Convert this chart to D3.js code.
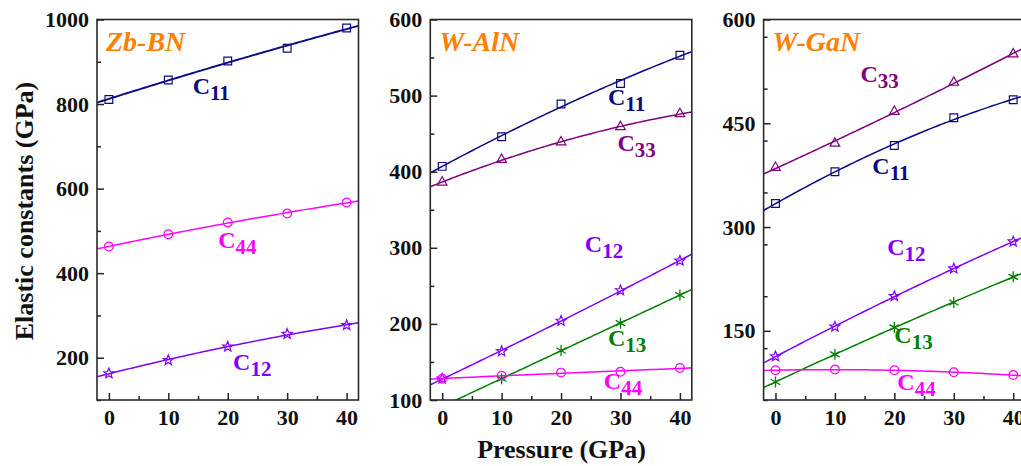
<!DOCTYPE html>
<html><head><meta charset="utf-8">
<script src="https://cdn.jsdelivr.net/npm/d3@7"></script>
<style>
html,body{margin:0;padding:0;background:#fff;}
svg{display:block;font-family:"Liberation Serif","Times New Roman",serif;}
</style></head><body>
<svg id="chart" width="1021" height="466"></svg>
<script>
// Pressure points (GPa)
const pressures = [0, 10, 20, 30, 40];
const pressureTicks = [0, 10, 20, 30, 40];

// Zb-BN elastic constants (GPa)
const bnC11 = [811, 857, 902, 932, 980];
const bnC44 = [463, 492, 520, 541, 567];
const bnC12 = [163, 194, 226, 256, 277];
const bnTicks = [200, 400, 600, 800, 1000];

// W-AlN elastic constants (GPa)
const alnC11 = [407, 446, 489, 516, 553];
const alnC33 = [386, 416, 439, 459, 476];
const alnC12 = [128, 164, 204, 244, 283];
const alnC13 = [null, 128, 165, 201, 238];
const alnC44 = [128, 132, 136, 137, 142];
const alnTicks = [100, 200, 300, 400, 500, 600];

// W-GaN elastic constants (GPa)
const ganC33 = [386, 421, 467, 509, 550];
const ganC11 = [334, 380, 418, 458, 484];
const ganC12 = [113, 156, 200, 240, 279];
const ganC13 = [76, 116, 155, 191, 228];
const ganC44 = [93, 94, 93, 90, 86];
const ganTicks = [150, 300, 450, 600];

const colors = {
  "11": "#0a0a82",
  "33": "#800080",
  "12": "#8000ff",
  "13": "#008000",
  "44": "#ff00ff"
};
const markers = { "11": "square", "33": "triangle", "12": "star", "13": "asterisk", "44": "circle" };

const panels = [
  {
    title: "Zb-BN", domain: [100, 1000], ticks: bnTicks, minorStep: 100,
    series: [
      { key: "11", values: bnC11, label: [14.1, 824] },
      { key: "44", values: bnC44, label: [18.4, 460] },
      { key: "12", values: bnC12, label: [20.9, 170] }
    ]
  },
  {
    title: "W-AlN", domain: [100, 600], ticks: alnTicks, minorStep: 50,
    series: [
      { key: "11", values: alnC11, label: [27.9, 487] },
      { key: "33", values: alnC33, label: [29.5, 427] },
      { key: "12", values: alnC12, label: [24.0, 294] },
      { key: "13", values: alnC13, label: [27.9, 171] },
      { key: "44", values: alnC44, label: [27.2, 114] }
    ]
  },
  {
    title: "W-GaN", domain: [50, 600], ticks: ganTicks, minorStep: 75,
    series: [
      { key: "33", values: ganC33, label: [14.3, 509] },
      { key: "11", values: ganC11, label: [16.3, 376] },
      { key: "12", values: ganC12, label: [18.8, 260] },
      { key: "13", values: ganC13, label: [20.0, 133] },
      { key: "44", values: ganC44, label: [20.5, 65] }
    ]
  }
];

// Least-squares quadratic trend through the plotted points
function quadFit(xs, ys) {
  const pts = xs.map((x, i) => [x, ys[i]]).filter(p => p[1] != null);
  const S = [0, 0, 0, 0, 0], T = [0, 0, 0];
  pts.forEach(([x, y]) => {
    for (let k = 0; k < 5; k++) S[k] += Math.pow(x, k);
    for (let k = 0; k < 3; k++) T[k] += y * Math.pow(x, k);
  });
  const A = [[S[0], S[1], S[2], T[0]], [S[1], S[2], S[3], T[1]], [S[2], S[3], S[4], T[2]]];
  for (let i = 0; i < 3; i++) {
    let p = i;
    for (let r = i + 1; r < 3; r++) if (Math.abs(A[r][i]) > Math.abs(A[p][i])) p = r;
    [A[i], A[p]] = [A[p], A[i]];
    for (let r = 0; r < 3; r++) {
      if (r === i) continue;
      const f = A[r][i] / A[i][i];
      for (let c = i; c < 4; c++) A[r][c] -= f * A[i][c];
    }
  }
  const coef = [A[0][3] / A[0][0], A[1][3] / A[1][1], A[2][3] / A[2][2]];
  return x => coef[0] + coef[1] * x + coef[2] * x * x;
}

function markerPath(type) {
  if (type === "square") return d3.symbol(d3.symbolSquare, 60)();
  if (type === "circle") return d3.symbol(d3.symbolCircle, 60)();
  if (type === "triangle") {
    const s = 9.6, h = s * Math.sqrt(3) / 2;
    return `M0,${-h * 2 / 3}L${s / 2},${h / 3}L${-s / 2},${h / 3}Z`;
  }
  if (type === "star") {
    const R = 5.3, r = 2.3;
    let d = "";
    for (let k = 0; k < 10; k++) {
      const a = -Math.PI / 2 + k * Math.PI / 5;
      const rr = k % 2 === 0 ? R : r;
      d += (k === 0 ? "M" : "L") + (rr * Math.cos(a)).toFixed(2) + "," + (rr * Math.sin(a)).toFixed(2);
    }
    return d + "Z";
  }
  if (type === "asterisk") {
    const R = 5.5;
    let d = "";
    [90, 30, -30].forEach(deg => {
      const a = deg * Math.PI / 180;
      d += `M${(R * Math.cos(a)).toFixed(2)},${(-R * Math.sin(a)).toFixed(2)}L${(-R * Math.cos(a)).toFixed(2)},${(R * Math.sin(a)).toFixed(2)}`;
    });
    return d;
  }
}

const svg = d3.select("#chart");
svg.append("rect").attr("width", 1021).attr("height", 466).attr("fill", "#fff");

const plotTop = 19.5, plotW = 261.5, plotH = 380.5;

panels.forEach((cfg, i) => {
  const left = 97 + i * 333.3;
  const x = d3.scaleLinear().domain([-2, 42]).range([0, plotW]);
  const y = d3.scaleLinear().domain(cfg.domain).range([plotH, 0]);
  const g = svg.append("g").attr("transform", `translate(${left},${plotTop})`);

  const clipId = "clip" + i;
  g.append("clipPath").attr("id", clipId)
    .append("rect").attr("width", plotW).attr("height", plotH);

  const plot = g.append("g").attr("clip-path", `url(#${clipId})`);

  // Trend curves
  const xs = d3.range(-2, 42.01, 0.5);
  cfg.series.forEach(s => {
    const f = quadFit(pressures, s.values);
    plot.append("path")
      .attr("d", d3.line().x(d => x(d)).y(d => y(f(d)))(xs))
      .attr("fill", "none")
      .attr("stroke", colors[s.key])
      .attr("stroke-width", s.key === "11" && i === 0 ? 1.9 : 1.5);
  });

  // Markers
  cfg.series.forEach(s => {
    const type = markers[s.key];
    const pts = pressures.map((p, k) => [p, s.values[k]]).filter(d => d[1] != null);
    plot.selectAll(null).data(pts).enter().append("path")
      .attr("transform", d => `translate(${x(d[0])},${y(d[1])})`)
      .attr("d", markerPath(type))
      .attr("fill", "none")
      .attr("stroke", colors[s.key])
      .attr("stroke-width", type === "asterisk" ? 1.3 : 1.2);
  });

  // Minor ticks
  const yMinor = d3.range(cfg.domain[0], cfg.domain[1] + 0.1, cfg.minorStep)
    .filter(v => !cfg.ticks.includes(v));
  const xMinor = [5, 15, 25, 35];
  const minorL = g.append("g").call(d3.axisLeft(y).tickValues(yMinor).tickSize(-4).tickFormat(""));
  const minorB = g.append("g").attr("transform", `translate(0,${plotH})`)
    .call(d3.axisBottom(x).tickValues(xMinor).tickSize(-4).tickFormat(""));

  // Major ticks and labels
  const ax = g.append("g")
    .call(d3.axisLeft(y).tickValues(cfg.ticks).tickSize(-7).tickPadding(8).tickFormat(d3.format("d")));
  const bx = g.append("g").attr("transform", `translate(0,${plotH})`)
    .call(d3.axisBottom(x).tickValues(pressureTicks).tickSize(-7).tickPadding(9).tickFormat(d3.format("d")));

  [minorL, minorB, ax, bx].forEach(a => {
    a.select(".domain").remove();
    a.selectAll("line").attr("stroke", "#222").attr("stroke-width", 1.5);
    a.selectAll("text")
      .attr("fill", "#111")
      .style("font-family", "'Liberation Serif', serif")
      .style("font-weight", "bold")
      .style("font-size", "22px");
  });

  // Frame
  g.append("rect").attr("width", plotW).attr("height", plotH)
    .attr("fill", "none").attr("stroke", "#2a2a2a").attr("stroke-width", 1.6);

  // Panel title
  g.append("text")
    .attr("x", 9).attr("y", 31)
    .attr("fill", "#ff8000")
    .style("font-size", "28px").style("font-weight", "bold").style("font-style", "italic")
    .text(cfg.title);

  // Series labels
  cfg.series.forEach(s => {
    const t = g.append("text")
      .attr("x", x(s.label[0])).attr("y", y(s.label[1]))
      .attr("fill", colors[s.key])
      .style("font-weight", "bold");
    t.append("tspan").style("font-size", "24px").text("C");
    t.append("tspan").attr("dy", 6).style("font-size", "21px").text(s.key);
  });
});

// Axis titles
svg.append("text")
  .attr("transform", "translate(33,211) rotate(-90)")
  .attr("text-anchor", "middle")
  .attr("fill", "#111")
  .style("font-size", "26px").style("font-weight", "bold")
  .text("Elastic constants (GPa)");

svg.append("text")
  .attr("x", 561.5).attr("y", 458)
  .attr("text-anchor", "middle")
  .attr("fill", "#111")
  .style("font-size", "26px").style("font-weight", "bold")
  .text("Pressure (GPa)");
</script>
</body></html>
